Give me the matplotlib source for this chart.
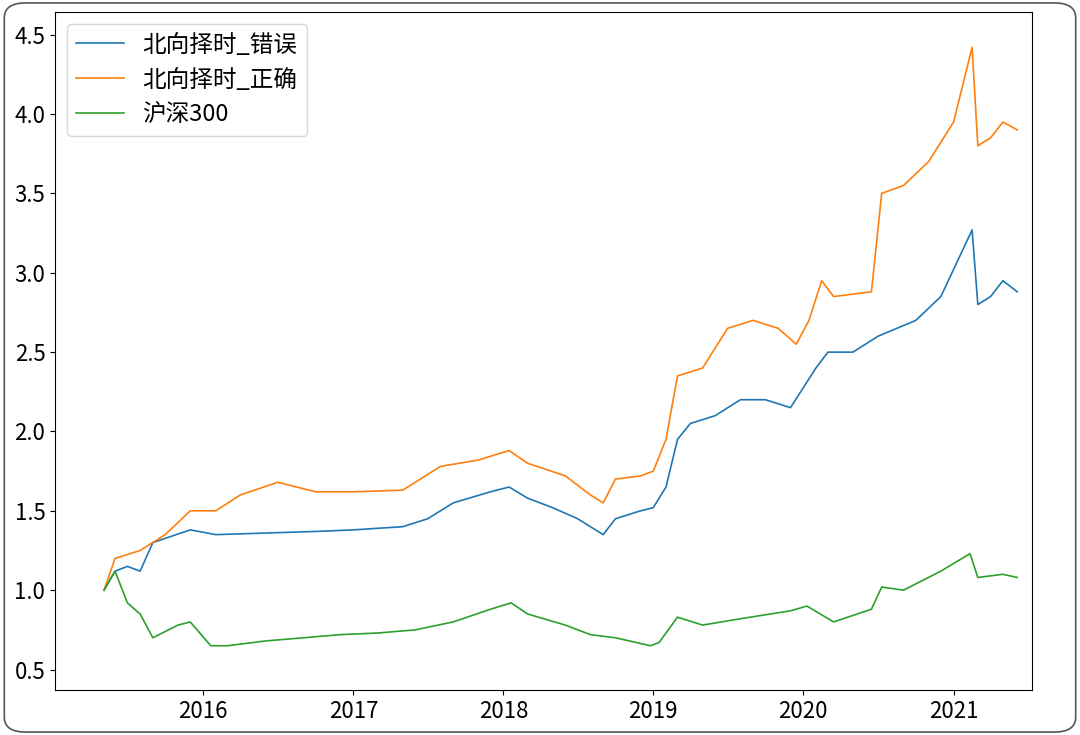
import matplotlib
matplotlib.use("Agg")
import matplotlib.pyplot as plt
import pandas as pd
from matplotlib.patches import FancyBboxPatch

plt.rcParams['font.family'] = ['Noto Sans CJK SC', 'DejaVu Sans']

blue_dates = ["2015-05-05","2015-06-01","2015-07-01","2015-08-01","2015-09-01","2015-12-01","2016-02-01","2016-06-01","2016-10-01","2017-01-01","2017-05-01","2017-07-01","2017-09-01","2017-12-01","2018-01-15","2018-03-01","2018-05-01","2018-07-01","2018-09-01","2018-10-01","2018-12-01","2019-01-01","2019-02-01","2019-03-01","2019-04-01","2019-06-01","2019-08-01","2019-10-01","2019-12-01","2020-02-01","2020-03-01","2020-05-01","2020-07-01","2020-10-01","2020-12-01","2021-02-15","2021-03-01","2021-04-01","2021-05-01","2021-06-05"]
blue_vals = [1.0,1.12,1.15,1.12,1.30,1.38,1.35,1.36,1.37,1.38,1.40,1.45,1.55,1.62,1.65,1.58,1.52,1.45,1.35,1.45,1.50,1.52,1.65,1.95,2.05,2.10,2.20,2.20,2.15,2.40,2.50,2.50,2.60,2.70,2.85,3.27,2.80,2.85,2.95,2.88]

orange_dates = ["2015-05-05","2015-06-01","2015-08-01","2015-10-01","2015-12-01","2016-02-01","2016-04-01","2016-07-01","2016-10-01","2017-01-01","2017-05-01","2017-08-01","2017-11-01","2018-01-15","2018-03-01","2018-06-01","2018-08-01","2018-09-01","2018-10-01","2018-12-01","2019-01-01","2019-02-01","2019-03-01","2019-05-01","2019-07-01","2019-09-01","2019-11-01","2019-12-15","2020-01-15","2020-02-15","2020-03-15","2020-06-15","2020-07-10","2020-09-01","2020-11-01","2021-01-01","2021-02-15","2021-03-01","2021-04-01","2021-05-01","2021-06-05"]
orange_vals = [1.0,1.20,1.25,1.35,1.50,1.50,1.60,1.68,1.62,1.62,1.63,1.78,1.82,1.88,1.80,1.72,1.60,1.55,1.70,1.72,1.75,1.95,2.35,2.40,2.65,2.70,2.65,2.55,2.70,2.95,2.85,2.88,3.50,3.55,3.70,3.95,4.42,3.80,3.85,3.95,3.90]

green_dates = ["2015-05-05","2015-06-01","2015-07-01","2015-08-01","2015-09-01","2015-11-01","2015-12-01","2016-01-20","2016-03-01","2016-06-01","2016-09-01","2016-12-01","2017-03-01","2017-06-01","2017-09-01","2017-12-01","2018-01-20","2018-03-01","2018-06-01","2018-08-01","2018-10-01","2018-12-25","2019-01-15","2019-03-01","2019-05-01","2019-08-01","2019-12-01","2020-01-10","2020-03-15","2020-06-15","2020-07-10","2020-09-01","2020-12-01","2021-02-10","2021-03-01","2021-05-01","2021-06-05"]
green_vals = [1.0,1.12,0.92,0.85,0.70,0.78,0.80,0.65,0.65,0.68,0.70,0.72,0.73,0.75,0.80,0.88,0.92,0.85,0.78,0.72,0.70,0.65,0.67,0.83,0.78,0.82,0.87,0.90,0.80,0.88,1.02,1.00,1.12,1.23,1.08,1.10,1.08]

fig = plt.figure(figsize=(10.8, 7.35), dpi=100)
fig.patches.append(FancyBboxPatch((0.004, 0.004), 0.992, 0.992, boxstyle="round,pad=0,rounding_size=0.02",
                                  transform=fig.transFigure, fill=False, edgecolor='#555555', lw=1.2))
ax = fig.add_axes([0.051, 0.061, 0.905, 0.922])
ax.plot(pd.to_datetime(blue_dates), blue_vals, color='#1f77b4', lw=1.2, label='北向择时_错误')
ax.plot(pd.to_datetime(orange_dates), orange_vals, color='#ff7f0e', lw=1.2, label='北向择时_正确')
ax.plot(pd.to_datetime(green_dates), green_vals, color='#2ca02c', lw=1.2, label='沪深300')
ax.set_ylim(0.37, 4.64)
ax.set_xlim(pd.Timestamp("2015-01-06"), pd.Timestamp("2021-07-12"))
ax.set_yticks([0.5,1.0,1.5,2.0,2.5,3.0,3.5,4.0,4.5])
ax.tick_params(labelsize=16)
ax.legend(loc='upper left', fontsize=17)
fig.savefig("out.png", dpi=100)
